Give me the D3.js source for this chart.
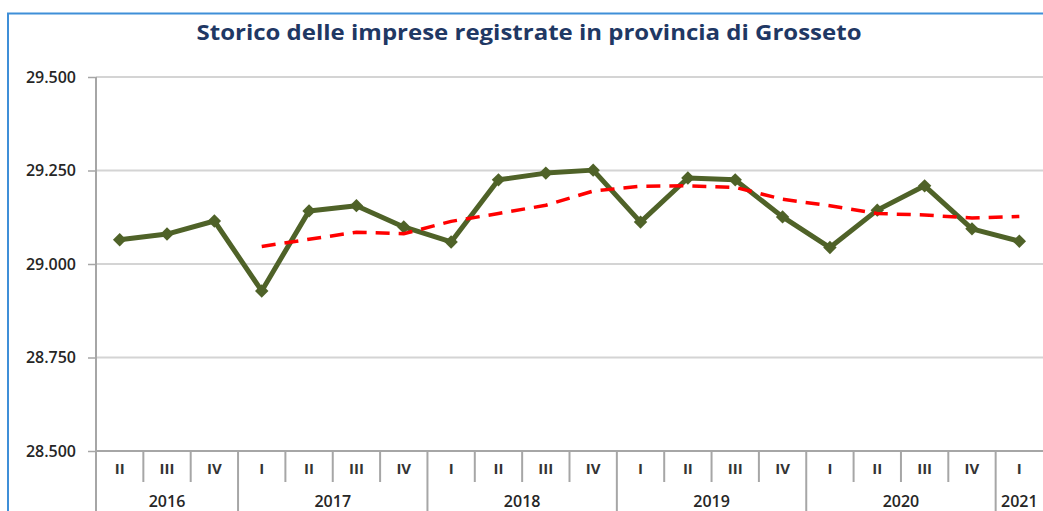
<!DOCTYPE html>
<html>
<head>
<meta charset="utf-8">
<script src="https://cdn.jsdelivr.net/npm/d3@7"></script>
<style>
  body { margin: 0; background: #fff; }
  svg { display: block; }
</style>
</head>
<body>
<svg id="chart"></svg>
<script>
// Quarterly registered companies, province of Grosseto
const quarters = ['II', 'III', 'IV',
  'I', 'II', 'III', 'IV',
  'I', 'II', 'III', 'IV',
  'I', 'II', 'III', 'IV',
  'I', 'II', 'III', 'IV',
  'I'];
const years = ['2016', '2017', '2018', '2019', '2020', '2021'];
const quartersPerYear = [3, 4, 4, 4, 4, 1];
const imprese = [29065, 29080, 29115,
  28928, 29142, 29156, 29099,
  29059, 29225, 29243, 29251,
  29112, 29230, 29225, 29126,
  29044, 29144, 29209, 29094,
  29061];
// 4-period moving average trendline (starts at 2017 I)
const mediaMobile = [null, null, null,
  29047, 29066, 29085, 29081,
  29114, 29135, 29157, 29195,
  29208, 29209, 29205, 29173,
  29156, 29135, 29131, 29123,
  29127];
const yTicks = [28500, 28750, 29000, 29250, 29500];

const svgWidth = 1043;
const svgHeight = 511;
const plot = { left: 96, right: 1043, top: 77, bottom: 451 };

const svg = d3.select('#chart')
  .attr('width', svgWidth)
  .attr('height', svgHeight);

// chart frame
svg.append('rect')
  .attr('x', 8)
  .attr('y', 13.5)
  .attr('width', 1060)
  .attr('height', 520)
  .attr('fill', 'none')
  .attr('stroke', '#3f8fd8')
  .attr('stroke-width', 2);

svg.append('text')
  .attr('x', 529)
  .attr('y', 40)
  .attr('text-anchor', 'middle')
  .attr('font-family', 'Open Sans')
  .attr('font-weight', 'bold')
  .attr('font-size', '20.5px')
  .attr('fill', '#1f3864')
  .attr('textLength', 665)
  .attr('lengthAdjust', 'spacingAndGlyphs')
  .text('Storico delle imprese registrate in provincia di Grosseto');

const idx = d3.range(quarters.length);

const xScale = d3.scaleBand()
  .domain(idx)
  .range([plot.left, plot.right]);

const yScale = d3.scaleLinear()
  .domain([28500, 29500])
  .range([plot.bottom, plot.top]);

const xc = i => xScale(i) + xScale.bandwidth() / 2;

// gridlines
svg.append('g')
  .selectAll('line')
  .data(yTicks)
  .enter()
  .append('line')
  .attr('x1', plot.left)
  .attr('x2', plot.right)
  .attr('y1', d => yScale(d))
  .attr('y2', d => yScale(d))
  .attr('stroke', '#d4d4d4')
  .attr('stroke-width', 2);

// y axis
const yAxis = svg.append('g')
  .attr('transform', 'translate(' + plot.left + ',0)')
  .call(d3.axisLeft(yScale)
    .tickValues(yTicks)
    .tickSize(8)
    .tickPadding(12)
    .tickFormat(d => d3.format(',')(d).replace(',', '.')));

yAxis.select('.domain').remove();
yAxis.selectAll('line').attr('stroke', '#a6a6a6').attr('stroke-width', 1.5);
yAxis.selectAll('text')
  .attr('font-family', 'Open Sans')
  .attr('font-weight', 600)
  .attr('font-size', '16px')
  .attr('fill', '#262626');

svg.append('line')
  .attr('x1', plot.left).attr('x2', plot.left)
  .attr('y1', plot.top).attr('y2', svgHeight)
  .attr('stroke', '#a6a6a6')
  .attr('stroke-width', 2);

svg.append('line')
  .attr('x1', plot.left).attr('x2', plot.right)
  .attr('y1', plot.bottom).attr('y2', plot.bottom)
  .attr('stroke', '#a6a6a6')
  .attr('stroke-width', 2);

// multi-level category axis
const yearStarts = [];
let acc = 0;
quartersPerYear.forEach(n => { yearStarts.push(acc); acc += n; });

svg.append('g')
  .selectAll('line')
  .data(idx.slice(1))
  .enter()
  .append('line')
  .attr('x1', d => xScale(d))
  .attr('x2', d => xScale(d))
  .attr('y1', plot.bottom)
  .attr('y2', d => yearStarts.includes(d) ? svgHeight : 482)
  .attr('stroke', '#a6a6a6')
  .attr('stroke-width', 2);

svg.append('g')
  .selectAll('text')
  .data(quarters)
  .enter()
  .append('text')
  .attr('x', (d, i) => xc(i))
  .attr('y', 474)
  .attr('text-anchor', 'middle')
  .attr('font-family', 'Open Sans')
  .attr('font-weight', 700)
  .attr('font-size', '15px')
  .attr('fill', '#333')
  .text(d => d);

svg.append('g')
  .selectAll('text')
  .data(years)
  .enter()
  .append('text')
  .attr('x', (d, i) => {
    const a = xScale(yearStarts[i]);
    const b = xScale(yearStarts[i] + quartersPerYear[i] - 1) + xScale.bandwidth();
    return (a + b) / 2;
  })
  .attr('y', 507)
  .attr('text-anchor', 'middle')
  .attr('font-family', 'Open Sans')
  .attr('font-weight', 600)
  .attr('font-size', '16px')
  .attr('fill', '#262626')
  .text(d => d);

// series line
const line = d3.line()
  .x((d, i) => xc(i))
  .y(d => yScale(d));

svg.append('path')
  .datum(imprese)
  .attr('d', line)
  .attr('fill', 'none')
  .attr('stroke', '#4f6228')
  .attr('stroke-width', 5)
  .attr('stroke-linejoin', 'round');

svg.append('g')
  .selectAll('path')
  .data(imprese)
  .enter()
  .append('path')
  .attr('d', d3.symbol().type(d3.symbolSquare).size(90))
  .attr('transform', (d, i) => 'translate(' + xc(i) + ',' + yScale(d) + ') rotate(45)')
  .attr('fill', '#4f6228');

// moving average trendline
const trend = d3.line()
  .defined(d => d !== null)
  .x((d, i) => xc(i))
  .y(d => yScale(d));

svg.append('path')
  .datum(mediaMobile)
  .attr('d', trend)
  .attr('fill', 'none')
  .attr('stroke', '#ff0000')
  .attr('stroke-width', 3.5)
  .attr('stroke-dasharray', '14,9');
</script>
</body>
</html>
